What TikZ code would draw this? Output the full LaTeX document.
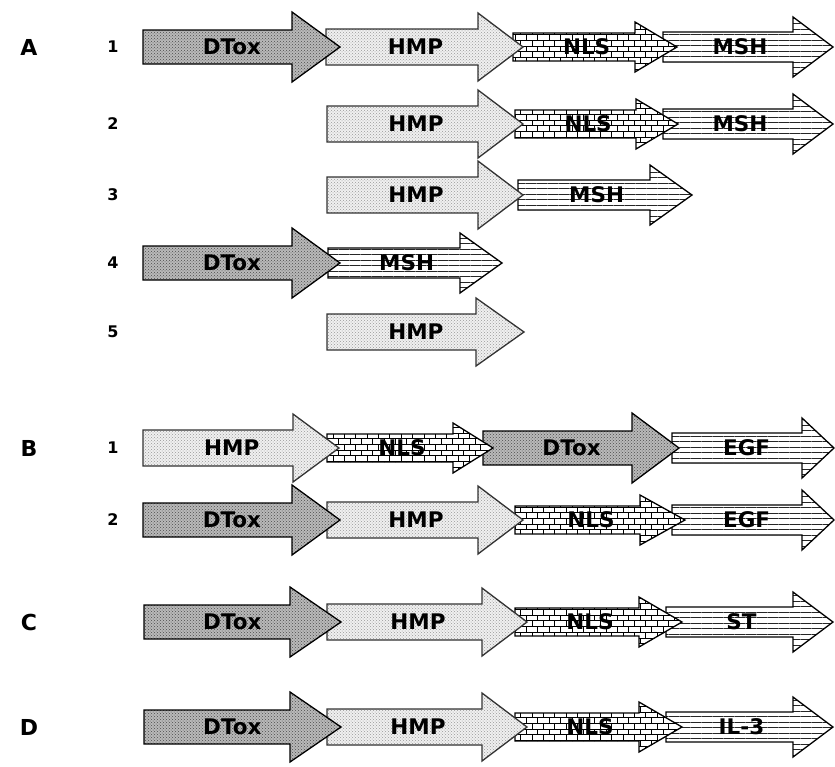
\documentclass[tikz,border=0pt]{standalone}
\usepackage{fontspec}
\setmainfont{DejaVu Sans}
\usepackage{tikz}
\usetikzlibrary{patterns,patterns.meta,positioning,calc}

\tikzset{
    seglabel/.style={inner sep=0pt, font=\fontsize{21.5}{21.5}\selectfont\bfseries},
    rowlabel/.style={inner sep=0pt, font=\fontsize{22}{22}\selectfont\bfseries},
    rownum/.style={inner sep=0pt, font=\fontsize{16}{16}\selectfont\bfseries},
    dtoxfill/.style={draw=black, line width=1.3pt, preaction={fill=gray!55}, pattern=crosshatch dots, pattern color=black!70},
    hmpfill/.style={draw=black!80, line width=1.3pt, preaction={fill=gray!12}, pattern=crosshatch dots, pattern color=gray!80},
    nlsfill/.style={draw=black, line width=1.3pt, preaction={fill=white}, pattern=bricks, pattern color=black},
    ligfill/.style={draw=black, line width=1.3pt, preaction={fill=white}, pattern={Lines[angle=0,distance=5.5pt,line width=0.8pt]}, pattern color=black!85}
}

% one block of a fusion: name, style, x0, head base, tip, y, body half, head half, text
\newcommand{\segment}[9]{%
    \draw[#2] (#3,#6-#7) -- (#4,#6-#7) -- (#4,#6-#8) -- (#5,#6) -- (#4,#6+#8) -- (#4,#6+#7) -- (#3,#6+#7) -- cycle;
    \pgfmathsetmacro\labx{(#3+#4)/2+0.3*(#5-#4)}
    \node[seglabel] (#1) at (\labx,#6) {#9};
}
\newcommand{\dtox}[5]{\segment{#1}{dtoxfill}{#2}{#3}{#4}{#5}{17}{35}{DTox}}
\newcommand{\hmp}[5]{\segment{#1}{hmpfill}{#2}{#3}{#4}{#5}{18}{34}{HMP}}
\newcommand{\nls}[5]{\segment{#1}{nlsfill}{#2}{#3}{#4}{#5}{14}{25}{NLS}}
\newcommand{\ligand}[6]{\segment{#1}{ligfill}{#2}{#3}{#4}{#5}{15}{30}{#6}}

\begin{document}
\begin{tikzpicture}[x=1pt, y=-1pt]
    \useasboundingbox[fill=white] (0,0) rectangle (835,766);

    % panel A
    \node[rowlabel] (labA) at (29,47) {A};
    \foreach \n/\y in {1/47, 2/124, 3/195, 4/263, 5/332}
        \node[rownum] (numA\n) at (113,\y) {\n};

    \ligand{a1msh}{663}{793}{833}{47}{MSH}
    \nls{a1nls}{513}{635}{677}{47}
    \hmp{a1hmp}{326}{478}{523}{47}
    \dtox{a1dtox}{143}{292}{340}{47}

    \ligand{a2msh}{663}{793}{833}{124}{MSH}
    \nls{a2nls}{515}{636}{678}{124}
    \hmp{a2hmp}{327}{478}{523}{124}

    \ligand{a3msh}{518}{650}{692}{195}{MSH}
    \hmp{a3hmp}{327}{478}{523}{195}

    \ligand{a4msh}{328}{460}{502}{263}{MSH}
    \dtox{a4dtox}{143}{292}{340}{263}

    \hmp{a5hmp}{327}{476}{524}{332}

    % panel B
    \node[rowlabel] (labB) at (29,448) {B};
    \node[rownum] (numB1) at (113,448) {1};
    \node[rownum] (numB2) at (113,520) {2};

    \ligand{b1egf}{672}{802}{834}{448}{EGF}
    \dtox{b1dtox}{483}{632}{679}{448}
    \nls{b1nls}{327}{453}{493}{448}
    \hmp{b1hmp}{143}{293}{339}{448}

    \ligand{b2egf}{672}{802}{834}{520}{EGF}
    \nls{b2nls}{515}{640}{685}{520}
    \hmp{b2hmp}{327}{478}{523}{520}
    \dtox{b2dtox}{143}{292}{340}{520}

    % panel C
    \node[rowlabel] (labC) at (29,622) {C};
    \ligand{cst}{666}{793}{833}{622}{ST}
    \nls{cnls}{515}{639}{682}{622}
    \hmp{chmp}{327}{482}{527}{622}
    \dtox{cdtox}{144}{290}{341}{622}

    % panel D
    \node[rowlabel] (labD) at (29,727) {D};
    \ligand{dil}{666}{793}{833}{727}{IL-3}
    \nls{dnls}{515}{639}{682}{727}
    \hmp{dhmp}{327}{482}{527}{727}
    \dtox{ddtox}{144}{290}{341}{727}
\end{tikzpicture}
\end{document}
